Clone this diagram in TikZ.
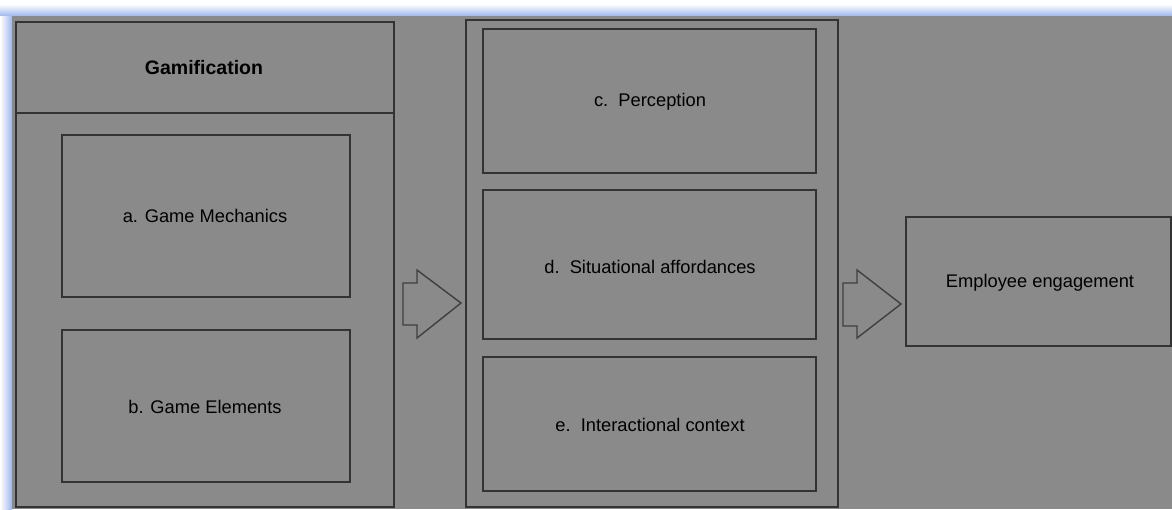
\documentclass[tikz,border=0pt]{standalone}
\usepackage{fontspec}
\setmainfont{Liberation Sans}
\begin{document}
\begin{tikzpicture}[x=1pt,y=-1pt,
  box/.style={draw=black!80,line width=1.6pt,fill=bggrey},
  lbl/.style={font=\fontsize{18.3}{21}\selectfont,text=black},
  blockarrow/.style={draw=black!75,line width=1.4pt,fill=bggrey,line join=miter}]
\definecolor{bggrey}{HTML}{8A8A8A}
\definecolor{glow}{HTML}{9DB6F2}
\useasboundingbox (0,0) rectangle (1172,509);
\fill[white] (0,0) rectangle (1172,509);
\shade[top color=white,bottom color=glow] (0,4) rectangle (1172,16);
\shade[left color=white,right color=glow] (0,16) rectangle (12,509);
\fill[bggrey] (12,16) rectangle (1172,509);
% Gamification group
\draw[box] (16,22) rectangle (394,507);
\draw[draw=black!80,line width=1.6pt] (16,113) -- (394,113);
\node[lbl,font=\fontsize{19.5}{22}\selectfont\bfseries] (gam) at (204,68) {Gamification};
\draw[box] (62,135) rectangle (350,297);
\node[lbl] (a) at (205,216) {a. Game Mechanics};
\draw[box] (62,330) rectangle (350,482);
\node[lbl] (b) at (205,407) {b. Game Elements};
% arrow 1
\draw[blockarrow] (403,283) -- (417,283) -- (417,270) -- (461,303) -- (417,338) -- (417,325) -- (403,325) -- cycle;
% middle group
\draw[box] (466,20) rectangle (838,507);
\draw[box] (483,29) rectangle (816,173);
\node[lbl] (c) at (650,102) {c.\ \ Perception};
\draw[box] (483,190) rectangle (816,339);
\node[lbl] (d) at (650,267) {d.\ \ Situational affordances};
\draw[box] (483,357) rectangle (816,491);
\node[lbl] (e) at (650,425) {e.\ \ Interactional context};
% arrow 2
\draw[blockarrow] (843,283) -- (857,283) -- (857,270) -- (901,304) -- (857,338) -- (857,326) -- (843,326) -- cycle;
% employee engagement
\draw[box] (906,217) rectangle (1171,346);
\node[lbl] (emp) at (1040,283) {Employee engagement};
\end{tikzpicture}
\end{document}
